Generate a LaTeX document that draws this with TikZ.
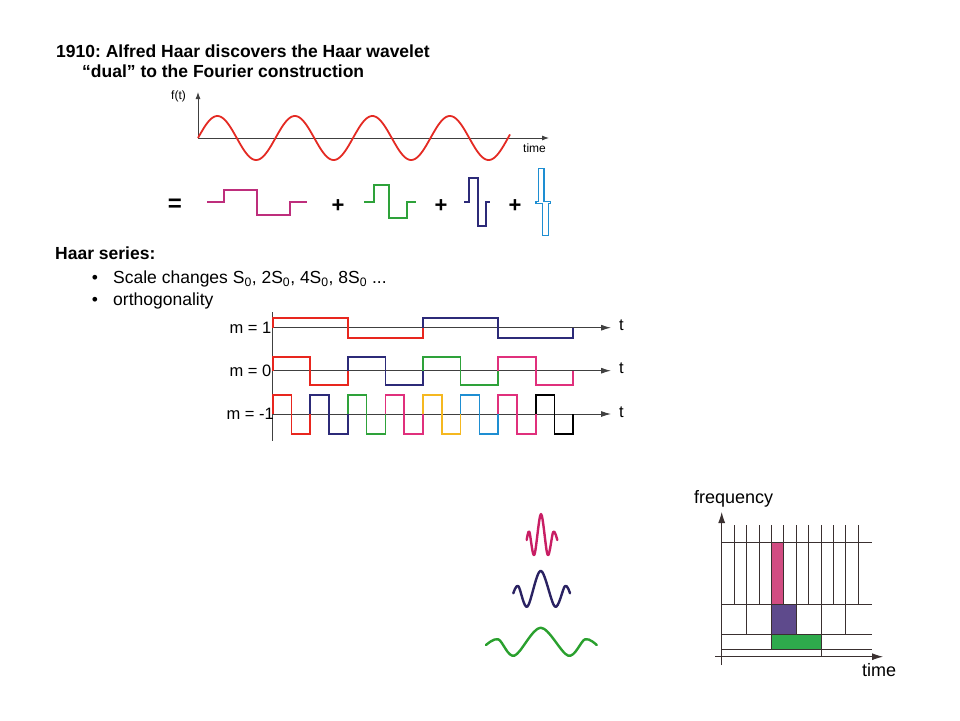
\documentclass[tikz,border=0pt]{standalone}
\usepackage{fontspec}
\setmainfont{Liberation Sans}
\usetikzlibrary{arrows.meta}
\frenchspacing
\definecolor{sred}{HTML}{E42A23}
\definecolor{hmag}{HTML}{BE2E7C}
\definecolor{hgreen}{HTML}{2EA23A}
\definecolor{hnavy}{HTML}{2C2A78}
\definecolor{hblue}{HTML}{1E8ED2}
\definecolor{hred}{HTML}{E8261E}
\definecolor{hpink}{HTML}{E0307C}
\definecolor{hyel}{HTML}{F5B820}
\definecolor{axgray}{HTML}{404040}
\definecolor{gridc}{HTML}{3A3030}
\definecolor{tmag}{HTML}{D24C82}
\definecolor{tpur}{HTML}{5E4A8C}
\definecolor{tgreen}{HTML}{2EAA4C}
\definecolor{wmag}{HTML}{C81E64}
\definecolor{wnavy}{HTML}{2A2262}
\definecolor{wgreen}{HTML}{2AA02E}
\tikzset{
  titlefont/.style={font=\bfseries\fontsize{17.5}{21}\selectfont},
  bodyfont/.style={font=\fontsize{17.5}{21}\selectfont},
  smallfont/.style={font=\fontsize{12}{14}\selectfont},
  mfont/.style={font=\fontsize{16.5}{19}\selectfont},
  plusfont/.style={font=\bfseries\fontsize{22}{24}\selectfont},
  axisline/.style={draw=axgray, line width=0.9pt},
  sinearrow/.style={axisline, -{Latex[length=7pt,width=5pt]}},
  marrow/.style={axisline, -{Latex[length=10pt,width=6pt]}},
  haarline/.style={line width=1.7pt},
  gridline/.style={draw=gridc, line width=0.8pt},
  tarrow/.style={draw=gridc, line width=0.9pt, -{Latex[length=11pt,width=7pt]}},
  wave/.style={line width=2.4pt, line cap=round, line join=round},
}
\begin{document}
\begin{tikzpicture}[x=1pt,y=-1pt, every node/.style={inner sep=0pt}]
\path[use as bounding box, fill=white] (0,0) rectangle (960,720);

% titles
\node[titlefont, anchor=west] (title1) at (56,51) {1910: Alfred Haar discovers the Haar wavelet};
\node[titlefont, anchor=west] (title2) at (82,71) {“dual” to the Fourier construction};

% sine plot
\coordinate (so) at (198,138);
\coordinate (sy) at (198,92);
\coordinate (sx) at (549,138);
\draw[sinearrow] (so) -- (sy);
\draw[sinearrow] (so) -- (sx);
\node[smallfont, anchor=west] (ft) at (171,96) {f(t)};
\node[smallfont, anchor=west] (timelbl) at (523,148) {time};
\draw[sred, line width=1.8pt] plot[domain=0:312, samples=220, smooth] ({\x+198}, {138-22*sin(\x/77.5*360)});

% equation row
\node[font=\bfseries\fontsize{24}{26}\selectfont] (eq) at (175,205) {=};
\node[plusfont] (p1) at (338,206) {+};
\node[plusfont] (p2) at (441,206) {+};
\node[plusfont] (p3) at (515,206) {+};
\draw[hmag, haarline] (207,202.3) -- (224,202.3) -- (224,190) -- (257,190) -- (257,215) -- (290,215) -- (290,202.3) -- (307,202.3);
\draw[hgreen, haarline] (364,202.3) -- (374,202.3) -- (374,185.3) -- (389.3,185.3) -- (389.3,218.3) -- (406.7,218.3) -- (406.7,202.3) -- (416,202.3);
\draw[hnavy, haarline] (464.3,202.3) -- (469,202.3) -- (469,178.3) -- (478.3,178.3) -- (478.3,225.7) -- (485.7,225.7) -- (485.7,202.3) -- (490,202.3);
\draw[hblue, line width=1.1pt, line join=miter] (536,201.5) -- (538.3,201.5) -- (538.3,168.3) -- (544,168.3) -- (544,201.5) -- (550.7,201.5) -- (550.7,203.3) -- (548.3,203.3) -- (548.3,235.7) -- (542.7,235.7) -- (542.7,203.3) -- (536,203.3) -- cycle;

% Haar series text
\node[titlefont, anchor=west] (hs) at (55,253) {Haar series:};
\node[bodyfont] (b1) at (95,279) {•};
\node[bodyfont, anchor=west] (l1) at (113,279) {Scale changes S\textsubscript{0}, 2S\textsubscript{0}, 4S\textsubscript{0}, 8S\textsubscript{0} ...};
\node[bodyfont] (b2) at (95,301) {•};
\node[bodyfont, anchor=west] (l2) at (113,301) {orthogonality};

% Haar series plot axes
\coordinate (vtop) at (272.7,312);
\coordinate (vbot) at (272.7,441);
\draw[axisline] (vtop) -- (vbot);
\coordinate (a1) at (272.7,327.7); \coordinate (a1e) at (611,327.7);
\coordinate (a0) at (272.7,370.7); \coordinate (a0e) at (611,370.7);
\coordinate (am) at (272.7,414);   \coordinate (ame) at (611,414);
\draw[marrow] (a1) -- (a1e);
\draw[marrow] (a0) -- (a0e);
\draw[marrow] (am) -- (ame);
\node[mfont, anchor=west] (t1) at (619,325.7) {t};
\node[mfont, anchor=west] (t0) at (619,368.7) {t};
\node[mfont, anchor=west] (tm) at (619,412) {t};
\node[mfont, anchor=east] (m1) at (271.5,327.7) {m = 1};
\node[mfont, anchor=east] (m0) at (271.5,370.7) {m = 0};
\node[mfont, anchor=east] (mm) at (274,414) {m = -1};

% m = 1
\foreach \i/\c in {0/hred,1/hnavy}{
  \pgfmathsetmacro{\xs}{272.7+\i*150.3}
  \pgfmathsetmacro{\h}{75.15}
  \draw[\c, haarline] (\xs,327.7) -- (\xs,317.7) -- ({\xs+\h},317.7) -- ({\xs+\h},337.7) -- ({\xs+2*\h},337.7) -- ({\xs+2*\h},327.7);
}
% m = 0
\foreach \i/\c in {0/hred,1/hnavy,2/hgreen,3/hpink}{
  \pgfmathsetmacro{\xs}{272.7+\i*75.15}
  \pgfmathsetmacro{\h}{37.575}
  \draw[\c, haarline] (\xs,370.7) -- (\xs,356.7) -- ({\xs+\h},356.7) -- ({\xs+\h},385) -- ({\xs+2*\h},385) -- ({\xs+2*\h},370.7);
}
% m = -1
\foreach \i/\c in {0/hred,1/hnavy,2/hgreen,3/hpink,4/hyel,5/hblue,6/hpink,7/black}{
  \pgfmathsetmacro{\xs}{272.7+\i*37.575}
  \pgfmathsetmacro{\h}{18.79}
  \draw[\c, haarline] (\xs,414) -- (\xs,395) -- ({\xs+\h},395) -- ({\xs+\h},434.3) -- ({\xs+2*\h},434.3) -- ({\xs+2*\h},414);
}

% bottom wavelets
\draw[wmag, wave] plot[smooth, tension=0.55] coordinates {(526.7,540) (529.3,531.7) (534.3,555) (541,514) (547.7,555) (553.3,531.7) (557.3,540)};
\draw[wnavy, wave] plot[smooth, tension=0.55] coordinates {(513.3,593.3) (518.3,586) (527.3,606.7) (540.7,570.7) (555,606.7) (565,586) (570,593.3)};
\draw[wgreen, wave] plot[smooth, tension=0.55] coordinates {(486,645) (498.3,639.3) (514.3,655.7) (540.7,627.7) (568.3,655.7) (585,639.3) (596.7,645)};

% time-frequency tiling
\fill[tmag] (771.3,542.3) rectangle (783.7,604);
\fill[tpur] (771.3,604) rectangle (796,634.3);
\fill[tgreen] (771.3,634.3) rectangle (820.9,649.3);
\foreach \y in {542.3,604,634.3,649.3}{
  \draw[gridline] (721.7,\y) -- (871.7,\y);
}
\foreach \k in {1,...,11}{
  \draw[gridline] ({721.7+12.4*\k},525) -- ({721.7+12.4*\k},604);
}
\foreach \k in {2,4,6,8,10}{
  \draw[gridline] ({721.7+12.4*\k},604) -- ({721.7+12.4*\k},634.3);
}
\foreach \k in {4,8}{
  \draw[gridline] ({721.7+12.4*\k},634.3) -- ({721.7+12.4*\k},649.3);
}
\draw[gridline] (820.9,649.3) -- (820.9,656.7);
\coordinate (fy0) at (721.7,665);
\coordinate (fy1) at (721.7,512);
\coordinate (fx0) at (715,656.7);
\coordinate (fx1) at (883,656.7);
\draw[tarrow] (fy0) -- (fy1);
\draw[tarrow] (fx0) -- (fx1);
\node[font=\fontsize{18}{21}\selectfont, anchor=west] (freq) at (694,499) {frequency};
\node[font=\fontsize{18}{21}\selectfont, anchor=west] (tlbl) at (862,670) {time};
\end{tikzpicture}
\end{document}
